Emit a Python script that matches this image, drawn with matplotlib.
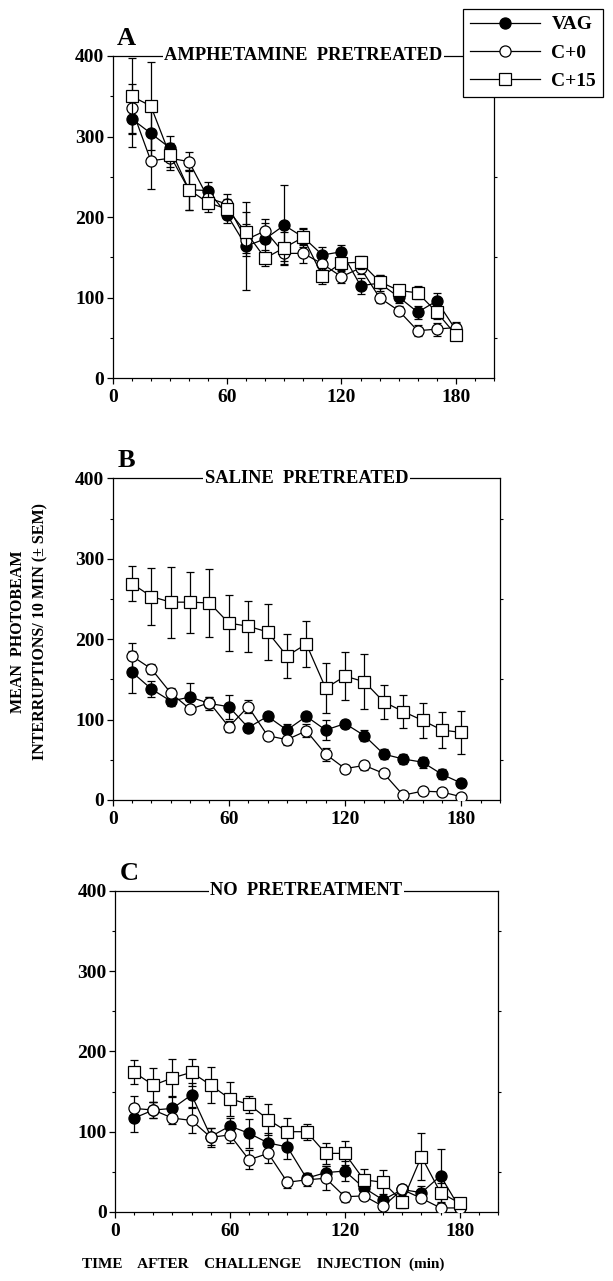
import numpy as np
import matplotlib.pyplot as plt
from matplotlib.lines import Line2D
from matplotlib.ticker import MultipleLocator

plt.rcParams['font.family'] = ['Liberation Serif', 'DejaVu Serif']
plt.rcParams['font.weight'] = 'bold'

times = list(range(10, 190, 10))
series = ["VAG", "C+0", "C+15"]

# Panel A - amphetamine pretreated
a_vag = [322, 304, 286, 234, 233, 203, 164, 173, 190, 175, 153, 157, 115, 118, 101, 82, 96, 60]
a_vag_sem = [35, 30, 15, 25, 10, 10, 55, 20, 50, 10, 10, 8, 10, 10, 8, 8, 10, 8]
a_c0 = [335, 270, 273, 269, 224, 216, 172, 183, 155, 155, 142, 126, 137, 100, 84, 59, 61, 63]
a_c0_sem = [30, 35, 15, 12, 10, 13, 20, 15, 10, 12, 10, 8, 8, 6, 6, 7, 8, 7]
a_c15 = [350, 338, 277, 234, 218, 210, 181, 149, 162, 175, 127, 143, 144, 120, 109, 106, 82, 54]
a_c15_sem = [47, 55, 15, 25, 12, 12, 25, 10, 20, 12, 10, 10, 8, 8, 6, 8, 8, 6]

# Panel B - saline pretreated
b_vag = [159, 138, 123, 128, 120, 116, 90, 104, 87, 104, 87, 95, 80, 57, 51, 47, 32, 21]
b_vag_sem = [26, 10, 6, 17, 8, 15, 6, 6, 7, 6, 12, 5, 7, 6, 6, 7, 6, 5]
b_c0 = [179, 163, 133, 113, 121, 91, 116, 80, 75, 86, 57, 39, 43, 33, 6, 11, 10, 4]
b_c0_sem = [16, 6, 6, 5, 7, 7, 8, 5, 7, 8, 8, 5, 6, 4, 3, 3, 3, 3]
b_c15 = [269, 253, 246, 246, 245, 220, 216, 209, 179, 194, 139, 154, 147, 122, 110, 99, 87, 84]
b_c15_sem = [22, 36, 44, 38, 42, 35, 32, 35, 27, 29, 31, 30, 34, 21, 21, 22, 22, 27]

# Panel C - no pretreatment
c_vag = [117, 127, 129, 146, 94, 107, 98, 86, 81, 42, 49, 51, 30, 15, 28, 24, 45, 5]
c_vag_sem = [17, 10, 15, 15, 10, 10, 18, 12, 15, 6, 8, 12, 6, 5, 6, 8, 34, 3]
c_c0 = [129, 127, 117, 114, 93, 96, 65, 73, 37, 40, 42, 19, 20, 7, 28, 17, 5, 5]
c_c0_sem = [15, 10, 8, 15, 12, 10, 12, 12, 7, 8, 15, 6, 5, 3, 5, 5, 3, 3]
c_c15 = [174, 158, 167, 174, 158, 141, 134, 115, 100, 100, 73, 73, 40, 37, 13, 69, 24, 11]
c_c15_sem = [15, 21, 24, 17, 22, 21, 11, 19, 17, 10, 13, 15, 14, 15, 8, 29, 12, 5]

panels = [
    ("A", "AMPHETAMINE  PRETREATED", [a_vag, a_c0, a_c15], [a_vag_sem, a_c0_sem, a_c15_sem],
     [0.1838, 0.7047, 0.622, 0.2516]),
    ("B", "SALINE  PRETREATED", [b_vag, b_c0, b_c15], [b_vag_sem, b_c0_sem, b_c15_sem],
     [0.1838, 0.3755, 0.6318, 0.2511]),
    ("C", "NO  PRETREATMENT", [c_vag, c_c0, c_c15], [c_vag_sem, c_c0_sem, c_c15_sem],
     [0.1876, 0.0539, 0.6248, 0.2506]),
]

styles = [dict(marker='o', mfc='black'), dict(marker='o', mfc='white'), dict(marker='s', mfc='white')]

fig = plt.figure(figsize=(6.13, 12.81), dpi=100)

for letter, title, vals, sems, pos in panels:
    ax = fig.add_axes(pos)
    for i in [2, 1, 0]:
        ax.errorbar(times, vals[i], yerr=sems[i], color='black', lw=0.9, elinewidth=0.9,
                    capsize=2.8, capthick=0.9, marker=styles[i]['marker'],
                    mfc=styles[i]['mfc'], mec='black', ms=8, mew=0.9, zorder=3 + i)
    ax.set_xlim(0, 200)
    ax.set_ylim(0, 400)
    ax.set_xticks([0, 60, 120, 180])
    ax.xaxis.set_minor_locator(MultipleLocator(10))
    ax.set_yticks([0, 100, 200, 300, 400])
    ax.yaxis.set_minor_locator(MultipleLocator(50))
    ax.tick_params(axis='both', which='major', direction='out', length=4, width=0.9,
                   labelsize=14, pad=2)
    ax.tick_params(axis='both', which='minor', direction='out', length=2.5, width=0.8)
    ax.tick_params(axis='y', which='minor', right=True)
    ax.tick_params(axis='x', pad=4)
    for sp in ax.spines.values():
        sp.set_linewidth(0.9)
    ax.text(0.5, 1.0, title, transform=ax.transAxes, ha='center', va='center',
            fontsize=13.3, fontweight='bold',
            bbox=dict(facecolor='white', edgecolor='none', pad=1.0), zorder=10, clip_on=False)
    ax.text(0.012, 1.02, letter, transform=ax.transAxes, ha='left', va='bottom',
            fontsize=19, fontweight='bold')

handles = [Line2D([], [], color='black', lw=0.9, marker=s['marker'], mfc=s['mfc'],
                  mec='black', ms=8, mew=0.9) for s in styles]
leg = fig.legend(handles, series, loc='upper left', bbox_to_anchor=(463 / 613, 1 - 9 / 1281),
                 frameon=True, fancybox=False, edgecolor='black', framealpha=1,
                 prop=dict(family='Liberation Serif', weight='bold', size=14),
                 handlelength=3.6, handletextpad=0.6, borderpad=0.35, labelspacing=0.55,
                 borderaxespad=0)
leg.get_frame().set_linewidth(0.9)

fig.text(18 / 613, 1 - 632 / 1281, "MEAN  PHOTOBEAM", rotation=90, ha='center', va='center',
         fontsize=11.5, fontweight='bold')
fig.text(40 / 613, 1 - 632 / 1281, "INTERRUPTIONS/ 10 MIN (\u00b1 SEM)", rotation=90,
         ha='center', va='center', fontsize=11.5, fontweight='bold')
fig.text(263 / 613, 1 - 1264 / 1281, "TIME    AFTER    CHALLENGE    INJECTION  (min)",
         ha='center', va='center', fontsize=11, fontweight='bold')

fig.savefig('out.png', dpi=100)
